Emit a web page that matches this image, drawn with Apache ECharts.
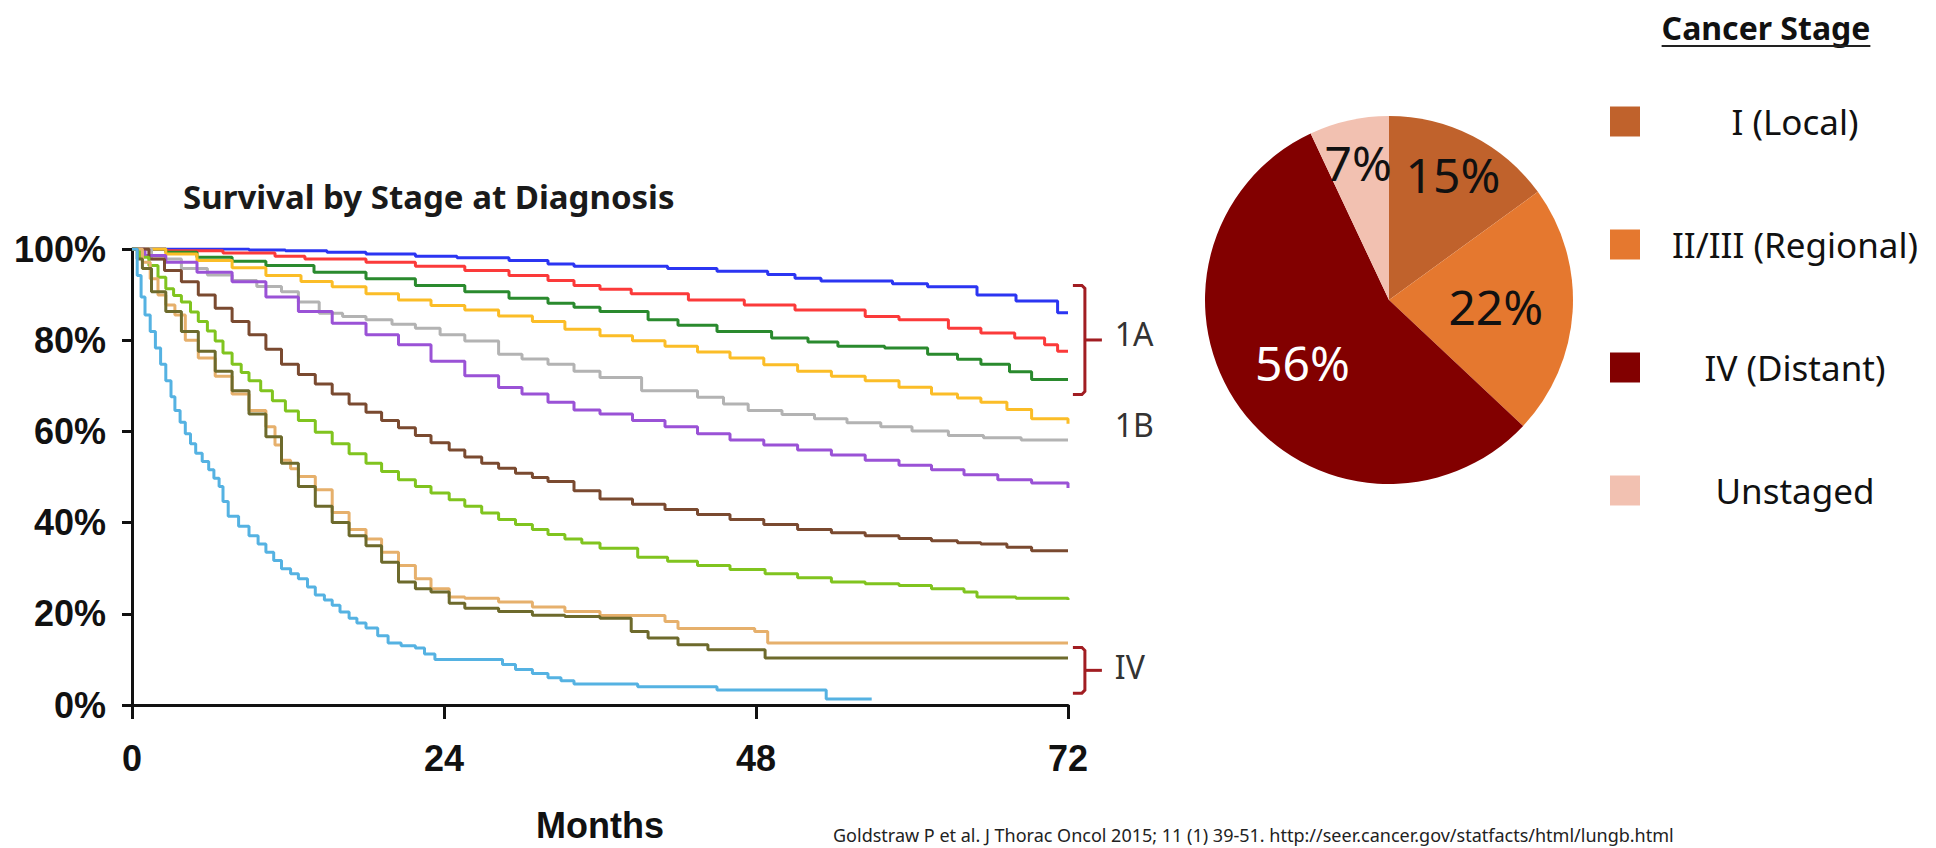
<!DOCTYPE html>
<html>
<head>
<meta charset="utf-8">
<script src="https://cdn.jsdelivr.net/npm/echarts@6/dist/echarts.min.js"></script>
<style>
  html, body { margin: 0; padding: 0; background: #fff; }
  #chart { width: 1936px; height: 848px; }
</style>
</head>
<body>
<div id="chart"></div>
<script>
// ---- data: [month, survival %] ----
const xTicks = [0, 24, 48, 72];
const yTicks = [0, 20, 40, 60, 80, 100];

const curveNames = ['IA1', 'IA2', 'IA3', 'IB', 'IIA', 'IIB', 'IIIA', 'IIIB', 'IIIC', 'IVA', 'IVB'];

const ia1 = [[0,100],[6,100],[9,99.8],[11.8,99.6],[15,99.3],[18,98.9],[21.8,98.4],[25,98.1],[29,97.5],[32,96.7],[34,96.2],[41.2,95.7],[45,95.1],[48.9,94.4],[51,93.6],[53,93],[58.5,92.4],[61.2,91.7],[65,89.9],[68,88.6],[71.2,86],[72,86]];
const ia2 = [[0,100],[2.6,99.6],[7,99.1],[11,98.4],[13.3,97.8],[18,97.1],[21.8,96.2],[25.6,95.3],[29,94.2],[32,93.1],[34,92],[36,91.2],[38.4,90.2],[42.8,88.8],[47.1,87.7],[51,86.6],[56.4,85.2],[59,84.5],[62.8,82.6],[65.3,81.6],[67.9,80.5],[70.2,79],[71.2,77.6],[72,77.6]];
const ia3 = [[0,100],[2.6,99.3],[5,98.2],[7.7,97.3],[10.3,96.4],[14,94.9],[18,93.5],[21.8,92],[25.6,90.6],[29,89.2],[32,88.1],[34,87.2],[36,86.3],[39.7,84.5],[42,83.3],[45,81.9],[49.2,80.5],[52,79.6],[54.3,78.7],[57.9,78.3],[61.2,76.9],[63.5,75.8],[65.3,74.7],[67.5,73.1],[69.2,71.4],[72,71.4]];
const ib = [[0,100],[2.6,98.9],[5,97.5],[7.7,95.9],[10.3,94.2],[13,92.9],[15.4,91.7],[18,90.2],[20.5,88.8],[23,87.6],[25.6,86.6],[28.2,85.3],[30.8,84.1],[33.3,82.4],[36,81],[38.5,79.9],[41,78.7],[43.5,77.4],[46,76.1],[48.6,74.6],[51.2,73.2],[53.8,72.1],[56.4,71.1],[59,69.7],[61.5,68.2],[63.5,67.3],[65.3,66.4],[67.3,64.8],[69.2,62.8],[72,61.7]];
const iia = [[0,100],[1.5,97.8],[3.8,95.7],[5.8,94.3],[7.7,93.1],[9.6,91.8],[11.5,90.6],[12.8,88.4],[14.4,85.9],[16.2,85.2],[18,84.5],[20,83.5],[21.8,82.6],[23.7,81.2],[25.6,79.8],[28.2,76.9],[30,75.9],[32,74.7],[34,73.2],[36,71.8],[39.2,68.9],[43.5,67.5],[45.5,66],[47.4,64.6],[50,63.7],[52.5,62.8],[55,61.9],[57.6,61],[60,60.1],[62.8,59.1],[65.5,58.6],[68.4,58.1],[72,58.1]];
const iib = [[0,100],[1,98.6],[2.6,97.1],[5,94.9],[7.7,92.8],[10.3,89.5],[12.8,86.3],[15.4,83.7],[18,81.2],[20.5,79],[23,75.4],[25.6,72.2],[28.2,69.6],[30,68.2],[32,66.4],[34,64.7],[36,63.8],[38.5,62.4],[41,61],[43.5,59.5],[46,58.1],[48.6,57],[51.2,55.9],[53.8,54.8],[56.4,53.7],[59,52.6],[61.5,51.6],[64,50.5],[66.6,49.4],[69.2,48.7],[72,47.6]];
const iiia = [[0,100],[1.3,97.8],[2.5,95.3],[3.8,92.8],[5.1,89.9],[6.4,87],[7.7,84.1],[9,81.2],[10.3,78],[11.5,74.7],[12.8,72.5],[14.1,70.4],[15.4,68.2],[16.7,66],[18,64.2],[19.2,62.4],[20.5,60.8],[21.8,59.1],[23,57.5],[24.4,55.9],[25.6,54.4],[26.9,53],[28.2,51.9],[29.5,50.8],[30.8,49.9],[32,49],[34,47],[36,45.2],[38.5,44],[41,42.9],[43.5,41.8],[46,40.7],[48.6,39.6],[51.2,38.5],[53.8,37.8],[56.4,37.1],[59,36.5],[61.5,36],[63.5,35.6],[65.3,35.3],[67.3,34.6],[69.2,33.8],[72,33.8]];
const iiib = [[0,100],[0.6,98.2],[1.3,96.4],[2,93.8],[2.6,91.3],[3.2,89.8],[3.8,88.4],[4.5,86.2],[5.1,84.1],[5.8,82],[6.4,79.8],[7,77.2],[7.7,74.7],[8.4,72.9],[9,71.1],[9.9,68.9],[10.8,66.7],[11.8,64.5],[12.8,62.4],[14.1,59.8],[15.4,57.3],[16.7,55.1],[18,53],[19.2,51.2],[20.5,49.4],[21.8,47.9],[23,46.5],[24.4,45],[25.6,43.6],[26.9,42.1],[28.2,40.7],[29.5,39.6],[30.8,38.5],[32,37.4],[33.3,36.4],[34.6,35.5],[36,34.4],[38.9,32.4],[41.2,31.5],[43.5,30.6],[46,29.7],[48.7,28.8],[51.2,27.9],[53.8,27],[56.4,26.6],[59,26.2],[61.5,25.5],[64,24.8],[65,23.7],[68,23.4],[72,23]];
const iiic = [[0,100],[0.8,97.1],[1.4,93.5],[2,89.9],[2.6,87.7],[3.3,85.5],[4.1,80],[5.1,76.1],[6.4,72.1],[7.7,68.2],[9,64.6],[10.3,61],[11,57],[11.5,53.7],[12.2,51.8],[12.8,50.1],[14.1,47.2],[15.4,42.2],[16.7,38.5],[18,36.4],[19.2,33.5],[20.5,30.6],[21.8,27.7],[23,25.5],[24.4,23.7],[25.6,23.4],[28.2,22.6],[30.8,21.5],[33.3,20.5],[36,19.6],[41,18.3],[42,16.8],[47.9,16.1],[48.9,13.6],[72,13.6]];
const iva = [[0,100],[0.4,97.8],[0.8,95.7],[1.5,90.6],[2.6,86.3],[3.8,81.9],[5.1,77.6],[6.4,73.2],[7.7,68.9],[9,63.8],[10.3,58.8],[11.5,53],[12.8,47.9],[14.1,43.6],[15.4,40],[16.7,37.1],[18,34.9],[19.2,31.3],[20.5,27],[21.8,25.5],[23,24.8],[24.4,22.3],[25.6,21.2],[28.2,20.5],[30.8,19.7],[33.3,19.4],[36,19],[38.4,16.1],[39.7,14.7],[42,13.2],[44.3,12.1],[48.7,10.3],[72,10.3]];
const ivb = [[0,100],[0.4,94.2],[0.7,89.5],[1,85.5],[1.4,81.9],[1.8,78.3],[2.2,74.7],[2.6,71.1],[3,67.6],[3.3,64.6],[3.7,62],[4.1,59.5],[4.5,57.3],[4.9,55.2],[5.4,53.4],[5.9,51.6],[6.3,49.7],[6.7,47.9],[7,44.6],[7.4,41.4],[8.2,39.2],[9,37.1],[9.7,35.3],[10.3,33.5],[10.9,31.7],[11.5,29.9],[12.2,28.8],[12.8,27.7],[13.5,25.9],[14.1,24.1],[14.8,23],[15.4,21.9],[16,20.4],[16.7,19],[17.3,18],[18,16.9],[18.9,15.2],[19.7,13.6],[20.7,13],[21.8,12.5],[22.5,11.2],[23.3,10],[27.4,10],[28.5,8.9],[29.5,7.8],[30.8,6.9],[32,6],[33,5.3],[34,4.6],[38.9,4],[45,3.3],[53.4,1.3],[56.9,1.3]];

const curves = [ia1, ia2, ia3, ib, iia, iib, iiia, iiib, iiic, iva, ivb];

// stage distribution (pie)
const stageNames = ['I (Local)', 'II/III (Regional)', 'IV (Distant)', 'Unstaged'];
const stageShares = [15, 22, 56, 7];

// bracket annotations on the right of the curves, in data units
const brackets = [
  { month: 73.3, top: 92, bottom: 68.1 },
  { month: 73.3, top: 12.6, bottom: 2.6 }
];
const groupLabels = [
  { text: '1A', month: 75.6, pct: 81.5 },
  { text: '1B', month: 75.6, pct: 61.6 },
  { text: 'IV', month: 75.6, pct: 8.4 }
];

// ---- styles ----
const curveColors = ['#2b35f2', '#fb3a3a', '#2a8a2e', '#fbbd27', '#b3b3b3', '#9a52d6',
                     '#7a4a30', '#80c41f', '#e6b06c', '#6d6a2c', '#55b2e2'];
const pieColors = ['#c0622c', '#e5782f', '#820000', '#f2c1b1'];
const pieLabelColors = ['#111', '#111', '#fff', '#111'];
const pieCenter = [1389, 300];
const pieRadius = 184;
const bracketColor = '#a11d22';

const chart = echarts.init(document.getElementById('chart'), null, { renderer: 'svg' });

function labelPie(radius, shown) {
  return {
    type: 'pie',
    center: pieCenter,
    radius: radius,
    startAngle: 90,
    silent: true,
    legendHoverLink: false,
    emphasis: { disabled: true },
    itemStyle: { color: 'rgba(0,0,0,0)' },
    labelLine: { show: false },
    label: {
      position: 'inside',
      formatter: '{c}%',
      fontFamily: 'Noto Sans',
      fontSize: 48
    },
    data: stageNames.map((n, i) => ({
      name: n,
      value: stageShares[i],
      label: { show: shown.indexOf(i) >= 0, color: pieLabelColors[i] }
    }))
  };
}

// width of the legend heading, for its underline
const ctx = document.createElement('canvas').getContext('2d');
ctx.font = 'bold 32px "Noto Sans"';
const headW = ctx.measureText('Cancer Stage').width;
const headX = 1766;

const lineSeries = curves.map((d, i) => ({
  name: curveNames[i],
  type: 'line',
  step: 'end',
  showSymbol: false,
  silent: true,
  data: d,
  lineStyle: { width: 3, color: curveColors[i] },
  itemStyle: { color: curveColors[i] }
}));

const option = {
  animation: false,
  backgroundColor: '#fff',
  title: [{
    text: 'Survival by Stage at Diagnosis',
    left: 183,
    top: 176,
    padding: 0,
    textStyle: { fontFamily: 'Noto Sans', fontWeight: 'bold', fontSize: 33, lineHeight: 40, color: '#1a1a1a' }
  }],
  grid: { left: 132, top: 249, width: 936, height: 461 },
  xAxis: {
    type: 'value',
    min: 0, max: 72, interval: 24,
    name: 'Months',
    nameLocation: 'middle',
    nameGap: 102,
    nameTextStyle: { fontFamily: 'Liberation Sans', fontWeight: 'bold', fontSize: 36, color: '#111' },
    axisLine: { lineStyle: { color: '#111', width: 3 } },
    axisTick: { length: 14, lineStyle: { color: '#111', width: 3 } },
    axisLabel: {
      margin: 35,
      fontFamily: 'Liberation Sans', fontWeight: 'bold', fontSize: 36, color: '#111',
      customValues: xTicks
    },
    splitLine: { show: false }
  },
  yAxis: {
    type: 'value',
    min: 0, max: 100, interval: 20,
    axisLine: { show: true, lineStyle: { color: '#111', width: 3 } },
    axisTick: { show: true, length: 10, lineStyle: { color: '#111', width: 3 } },
    axisLabel: {
      margin: 26,
      formatter: '{value}%',
      fontFamily: 'Liberation Sans', fontWeight: 'bold', fontSize: 36, color: '#111'
    },
    splitLine: { show: false }
  },
  legend: {
    orient: 'vertical',
    left: 1610,
    top: 104,
    padding: 0,
    itemWidth: 30,
    itemHeight: 30,
    itemGap: 88,
    icon: 'rect',
    selectedMode: false,
    data: stageNames,
    formatter: name => '{t|' + name + '}',
    textStyle: {
      rich: { t: { width: 300, align: 'center', fontFamily: 'Noto Sans', fontSize: 35, lineHeight: 40, color: '#111' } }
    }
  },
  graphic: [
    {
      type: 'text', x: headX, y: 27,
      style: { text: 'Cancer Stage', font: 'bold 32px "Noto Sans"', fill: '#111', align: 'center', verticalAlign: 'middle' }
    },
    {
      type: 'line',
      shape: { x1: headX - headW / 2, y1: 46, x2: headX + headW / 2, y2: 46 },
      style: { stroke: '#222', lineWidth: 2 }
    },
    {
      type: 'text', x: 833, y: 826,
      style: { text: 'Goldstraw P et al. J Thorac Oncol 2015; 11 (1) 39-51. http://seer.cancer.gov/statfacts/html/lungb.html',
               font: '18px "Noto Sans"', fill: '#222', align: 'left', verticalAlign: 'top' }
    }
  ],
  series: lineSeries.concat([
    {
      type: 'custom',
      coordinateSystem: 'cartesian2d',
      clip: false,
      silent: true,
      data: brackets.map(b => [b.month, b.top, b.bottom]),
      renderItem: (params, api) => {
        const t = api.coord([api.value(0), api.value(1)]);
        const b = api.coord([api.value(0), api.value(2)]);
        const x = t[0];
        const mid = (t[1] + b[1]) / 2;
        const style = { stroke: bracketColor, lineWidth: 3, fill: null };
        return {
          type: 'group',
          children: [
            { type: 'polyline', shape: { points: [[x - 12, t[1]], [x - 3, t[1]], [x, t[1] + 3], [x, b[1] - 3], [x - 3, b[1]], [x - 12, b[1]]] }, style: style },
            { type: 'line', shape: { x1: x, y1: mid, x2: x + 17, y2: mid }, style: style }
          ]
        };
      }
    },
    {
      type: 'custom',
      coordinateSystem: 'cartesian2d',
      clip: false,
      silent: true,
      data: groupLabels.map(l => [l.month, l.pct]),
      renderItem: (params, api) => {
        const p = api.coord([api.value(0), api.value(1)]);
        return {
          type: 'text', x: p[0], y: p[1],
          style: { text: groupLabels[params.dataIndex].text, font: '32px "Noto Sans"', fill: '#333', align: 'left', verticalAlign: 'middle' }
        };
      }
    },
    {
      name: 'Cancer Stage',
      type: 'pie',
      center: pieCenter,
      radius: pieRadius,
      startAngle: 90,
      silent: true,
      label: { show: false },
      labelLine: { show: false },
      data: stageNames.map((n, i) => ({ name: n, value: stageShares[i], itemStyle: { color: pieColors[i] } }))
    },
    labelPie(208, [1, 2]),
    labelPie(276, [0, 3])
  ])
};

chart.setOption(option);
</script>
</body>
</html>
